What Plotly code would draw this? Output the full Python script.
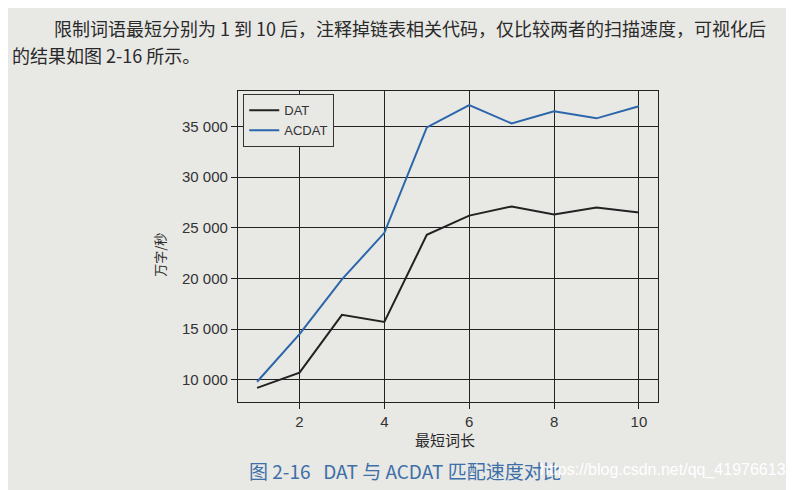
import plotly.graph_objects as go

# 最短词长 1..10
word_len = [1, 2, 3, 4, 5, 6, 7, 8, 9, 10]
dat_speed = [9200, 10700, 16400, 15700, 24300, 26200, 27100, 26300, 27000, 26500]
acdat_speed = [9800, 14500, 19900, 24500, 34900, 37100, 35300, 36500, 35800, 37000]

y_ticks = [10000, 15000, 20000, 25000, 30000, 35000]
y_tick_text = ["10 000", "15 000", "20 000", "25 000", "30 000", "35 000"]
x_ticks = [2, 4, 6, 8, 10]

page_bg = "#e8e8e5"
font_cn = "Noto Sans CJK SC"
font_num = "Liberation Sans"

fig = go.Figure()
fig.add_trace(go.Scatter(x=word_len, y=dat_speed, mode="lines", name="DAT",
                         line=dict(color="#222222", width=2)))
fig.add_trace(go.Scatter(x=word_len, y=acdat_speed, mode="lines", name="ACDAT",
                         line=dict(color="#2c66aa", width=2)))

fig.update_layout(
    width=794, height=490,
    margin=dict(l=230, r=144, t=83, b=96),
    paper_bgcolor=page_bg, plot_bgcolor=page_bg,
    font=dict(family=font_num, size=15, color="#333333"),
    showlegend=True,
    legend=dict(x=0.012, y=0.99, xanchor="left", yanchor="top",
                bgcolor=page_bg, bordercolor="#333333", borderwidth=1.2,
                font=dict(size=13, color="#333333"),
                tracegroupgap=0, itemwidth=30),
    xaxis=dict(range=[0.55, 10.45], tickvals=x_ticks,
               showgrid=True, gridcolor="#222222", gridwidth=1.3,
               showline=True, linecolor="#222222", linewidth=1.3, mirror=True,
               ticks="outside", ticklen=6, tickcolor="#222222",
               zeroline=False),
    yaxis=dict(range=[7800, 38500], tickvals=y_ticks, ticktext=y_tick_text,
               showgrid=True, gridcolor="#222222", gridwidth=1.3,
               showline=True, linecolor="#222222", linewidth=1.3, mirror=True,
               ticks="outside", ticklen=6, tickcolor="#222222",
               zeroline=False),
)

annotations = [
    dict(text="限制词语最短分别为 1 到 10 后，注释掉链表相关代码，仅比较两者的扫描速度，可视化后",
         x=-0.444, y=1.203, xanchor="left", font=dict(family=font_cn, size=18, color="#2a2a2a")),
    dict(text="的结果如图 2-16 所示。",
         x=-0.544, y=1.116, xanchor="left", font=dict(family=font_cn, size=18, color="#2a2a2a")),
    dict(text="最短词长", x=0.493, y=-0.122, xanchor="center",
         font=dict(family=font_cn, size=15, color="#2a2a2a")),
    dict(text="万字/秒", x=-0.186, y=0.473, xanchor="center", textangle=-90,
         font=dict(family=font_cn, size=13, color="#2a2a2a")),
    dict(text="图 2-16   DAT 与 ACDAT 匹配速度对比", x=0.021, y=-0.219, xanchor="left",
         font=dict(family=font_cn, size=19, color="#3d6fa8")),
    dict(text="https://blog.csdn.net/qq_41976613", x=0.714, y=-0.219, xanchor="left",
         font=dict(family=font_num, size=16, color="#ffffff")),
]
for a in annotations:
    a.update(xref="paper", yref="paper", yanchor="middle", showarrow=False)
    fig.add_annotation(**a)

fig.write_html("out.html")
